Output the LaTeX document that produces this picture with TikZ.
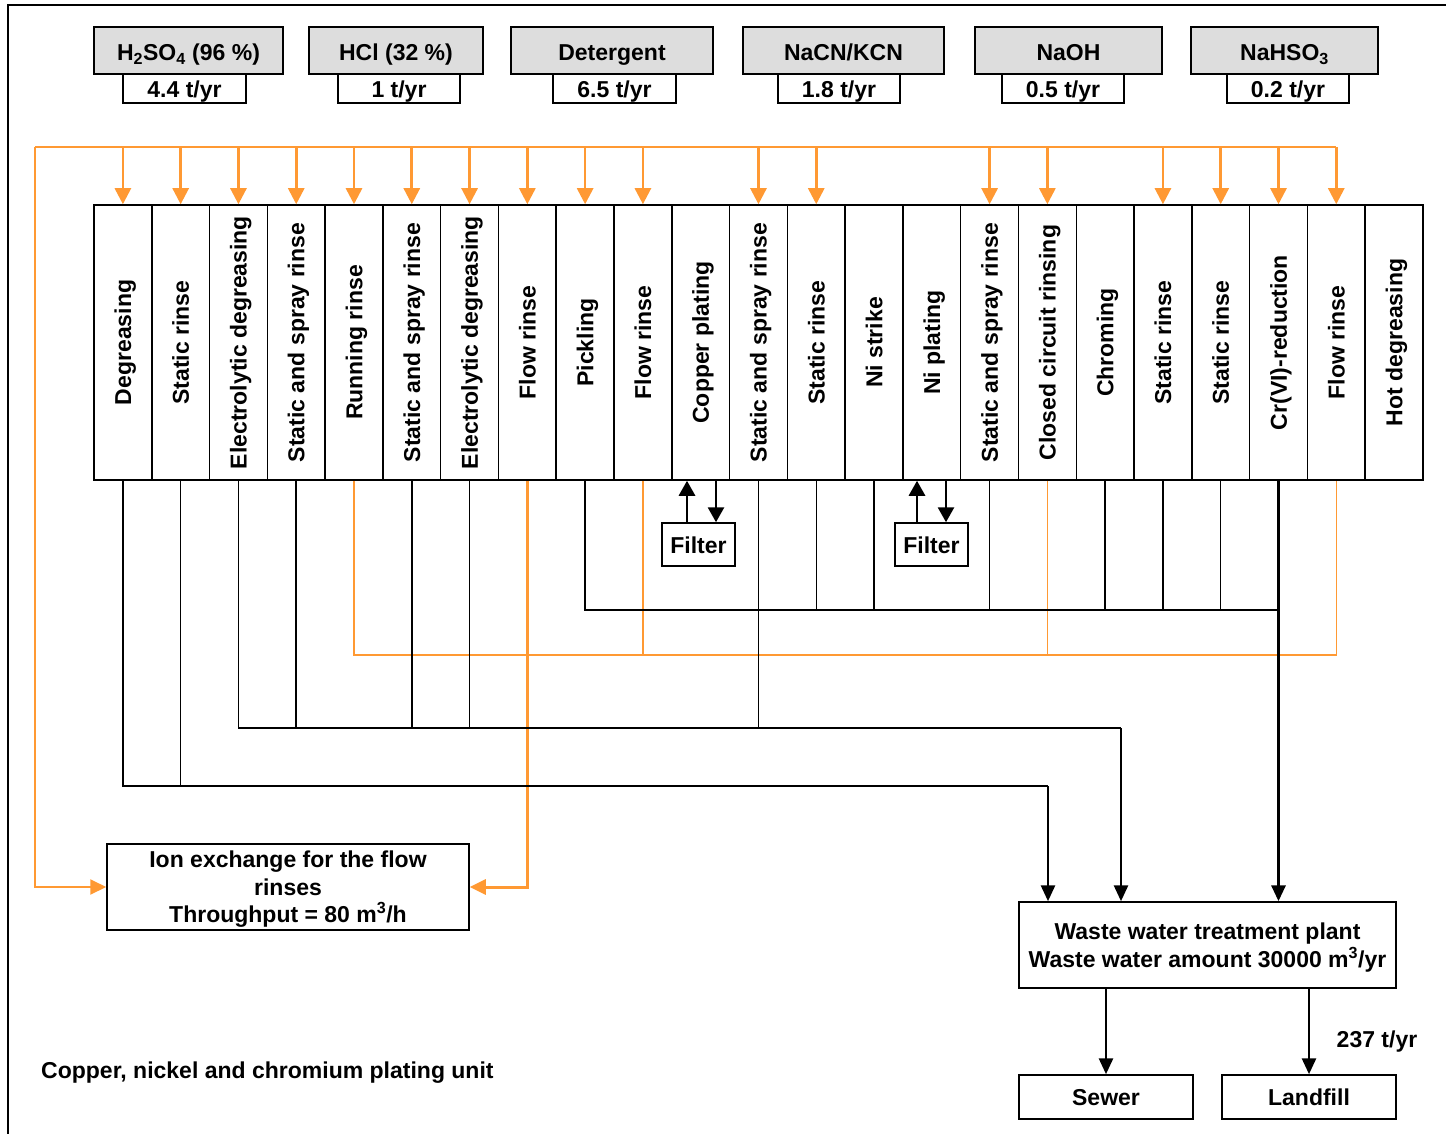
\documentclass[tikz,border=0pt]{standalone}
\usepackage{fontspec}
\setmainfont{Liberation Sans}
\usetikzlibrary{arrows.meta}
\definecolor{org}{RGB}{255,153,51}
\definecolor{boxgray}{RGB}{221,221,221}
\newcommand{\tanklabel}[1]{\rotatebox{90}{\raisebox{0pt}[16.5pt][0pt]{#1}}}
\begin{document}
\begin{tikzpicture}[x=1pt,y=-1pt,
  every node/.style={font=\fontsize{23}{27.5}\selectfont\bfseries, inner sep=0pt, align=center, text depth=0pt},
  oneline/.style={text height=17pt},
  tank/.style={draw, line width=1.5pt, minimum width=57.78pt, minimum height=275pt},
  chembox/.style={draw, line width=2pt, fill=boxgray, minimum height=47pt, text height=21pt},
  ratebox/.style={draw, line width=1.5pt, fill=white, minimum height=29pt, text height=19pt},
  plainbox/.style={draw, line width=1.5pt, fill=white},
  feed/.style={org, line width=2.6pt, -{Triangle[length=16pt,width=16pt]}},
  ohead/.style={org, line width=2pt},
  oloop/.style={org, line width=2pt, -{Triangle[length=16pt,width=15pt]}},
  othin/.style={org, line width=1.5pt},
  othick/.style={org, line width=3pt, -{Triangle[length=16pt,width=15pt]}},
  pipe/.style={black, line width=1.5pt},
  barrow/.style={black, line width=2.8pt, -{Triangle[length=16pt,width=14pt]}},
  farrow/.style={black, line width=2.8pt, -{Triangle[length=15pt,width=16pt]}},
]
\useasboundingbox (0,0) rectangle (1446,1134);
\draw[line width=2pt] (8,1140) -- (8,5) -- (1450,5);

% chemicals
\node[chembox, minimum width=189pt] (c1) at (188.5,50.5) {H\textsubscript{2}SO\textsubscript{4} (96 \%)};
\node[ratebox, minimum width=123pt] (r1) at (184.5,88.5) {4.4 t/yr};
\node[chembox, minimum width=174pt] (c2) at (396,50.5) {HCl (32 \%)};
\node[ratebox, minimum width=122pt] (r2) at (399,88.5) {1 t/yr};
\node[chembox, minimum width=202pt] (c3) at (612,50.5) {Detergent};
\node[ratebox, minimum width=123pt] (r3) at (614.5,88.5) {6.5 t/yr};
\node[chembox, minimum width=201pt] (c4) at (843.5,50.5) {NaCN/KCN};
\node[ratebox, minimum width=122pt] (r4) at (839,88.5) {1.8 t/yr};
\node[chembox, minimum width=187pt] (c5) at (1068.5,50.5) {NaOH};
\node[ratebox, minimum width=122pt] (r5) at (1063,88.5) {0.5 t/yr};
\node[chembox, minimum width=187pt] (c6) at (1284.5,50.5) {NaHSO\textsubscript{3}};
\node[ratebox, minimum width=122pt] (r6) at (1288,88.5) {0.2 t/yr};

% tanks
\foreach \lab [count=\i from 0] in {Degreasing,Static rinse,Electrolytic degreasing,Static and spray rinse,Running rinse,Static and spray rinse,Electrolytic degreasing,Flow rinse,Pickling,Flow rinse,Copper plating,Static and spray rinse,Static rinse,Ni strike,Ni plating,Static and spray rinse,Closed circuit rinsing,Chroming,Static rinse,Static rinse,Cr(VI)-reduction,Flow rinse,Hot degreasing} {
  \pgfmathsetmacro\xc{94+57.78*(\i+0.5)}
  \node[tank] (t\i) at (\xc,342.5) {\tanklabel{\lab}};
}

% other boxes
\node[plainbox, minimum width=362pt, minimum height=86pt] (ion) at (288,887) {Ion exchange for the flow\\rinses\\Throughput = 80 m\textsuperscript{3}/h};
\node[plainbox, minimum width=377pt, minimum height=86pt] (wwtp) at (1207.5,945) {Waste water treatment plant\\Waste water amount 30000 m\textsuperscript{3}/yr};
\node[plainbox, oneline, minimum width=174pt, minimum height=44pt] (sewer) at (1106,1097) {Sewer};
\node[plainbox, oneline, minimum width=174pt, minimum height=44pt] (landfill) at (1309,1097) {Landfill};
\node[plainbox, oneline, minimum width=73pt, minimum height=43pt] (f1) at (698.5,544.5) {Filter};
\node[plainbox, oneline, minimum width=73pt, minimum height=43pt] (f2) at (931.5,544.5) {Filter};
\node[oneline, anchor=west] (cap) at (41,1070) {Copper, nickel and chromium plating unit};
\node[oneline] (amt) at (1377,1039) {237 t/yr};

% orange feed header
\coordinate (hl) at (35,147);
\coordinate (hr) at (t21.north |- hl);
\draw[ohead] (hl) -- (hr);
\foreach \i in {0,1,2,3,4,5,6,7,8,9,11,12,15,16,18,19,20,21}
  \draw[feed] (t\i.north |- hl) -- (t\i.north);
\draw[oloop] (hl) |- (ion.west);

% orange flow rinse to ion exchange
\draw[othick] (t7.south) |- (ion.east);

% thin orange collector
\coordinate (y4) at (0,655);
\draw[othin] (t4.south) |- (t21.south |- y4) -- (t21.south);
\foreach \i in {9,16}
  \draw[othin] (t\i.south) -- (t\i.south |- y4);

% black collector 3 (y=610)
\coordinate (y3) at (0,610);
\draw[pipe] (t8.south) |- (t20.south |- y3);
\foreach \i in {12,13,15,17,18,19}
  \draw[pipe] (t\i.south) -- (t\i.south |- y3);
\draw[barrow, line width=3.2pt] (t20.south) -- (t20.south |- wwtp.north);

% black collector 2 (y=728)
\coordinate (b2) at (1121,728);
\draw[pipe] (t2.south) |- (b2);
\foreach \i in {3,5,6,11}
  \draw[pipe] (t\i.south) -- (t\i.south |- b2);
\draw[barrow] (b2) -- (b2 |- wwtp.north);

% black collector 1 (y=786)
\coordinate (b1) at (1048,786);
\draw[pipe] (t0.south) |- (b1);
\draw[pipe] (t1.south) -- (t1.south |- b1);
\draw[barrow] (b1) -- (b1 |- wwtp.north);

% filters
\coordinate (fu1) at (687,0);
\coordinate (fd1) at (716,0);
\coordinate (fu2) at (917,0);
\coordinate (fd2) at (946,0);
\draw[farrow] (f1.north -| fu1) -- (t10.south -| fu1);
\draw[farrow] (t10.south -| fd1) -- (f1.north -| fd1);
\draw[farrow] (f2.north -| fu2) -- (t14.south -| fu2);
\draw[farrow] (t14.south -| fd2) -- (f2.north -| fd2);

% outputs
\draw[barrow] (wwtp.south -| sewer.north) -- (sewer.north);
\draw[barrow] (wwtp.south -| landfill.north) -- (landfill.north);
\end{tikzpicture}
\end{document}
